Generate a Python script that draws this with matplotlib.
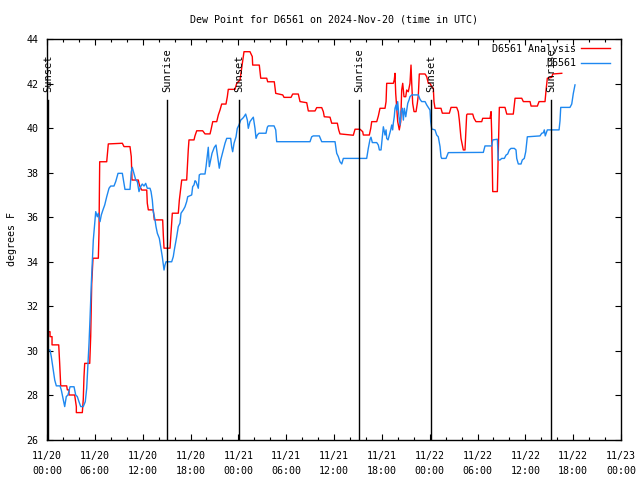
import matplotlib
matplotlib.use("Agg")
import matplotlib.pyplot as plt
import matplotlib.dates as mdates
import numpy as np
from datetime import datetime, timedelta

plt.rcParams['font.family'] = ['DejaVu Sans Mono']

base = datetime(2024, 11, 20, 0, 0)

# D6561 Analysis (red): hours since 11/20 00:00 UTC, dew point degF
analysis_hours = [0.04, 0.38, 0.38, 0.63, 0.63, 1.47, 1.59, 1.72, 2.47, 2.55, 2.76, 2.76, 3.47, 3.68, 3.68, 4.43,
                  4.55, 4.64, 4.73, 5.36, 5.48, 5.61, 5.77, 6.44, 6.52, 6.61, 7.49, 7.65, 7.69, 9.45, 9.66, 10.41,
                  10.57, 10.66, 11.45, 11.54, 11.67, 11.88, 12.51, 12.58, 12.71, 13.33, 13.46, 14.51, 14.59, 14.68,
                  15.43, 15.55, 15.64, 15.72, 16.47, 16.60, 16.77, 16.90, 17.52, 17.65, 17.72, 17.81, 18.44, 18.56,
                  18.78, 19.53, 19.82, 20.45, 20.57, 20.79, 21.29, 21.49, 21.70, 21.91, 22.45, 22.62, 22.74, 23.58,
                  23.80, 24.21, 24.71, 25.46, 25.75, 25.80, 26.63, 26.81, 27.56, 27.68, 28.51, 28.69, 29.57, 29.73,
                  30.61, 30.82, 31.52, 31.74, 32.58, 32.78, 33.62, 33.83, 34.46, 34.66, 34.78, 35.50, 35.71, 36.42,
                  36.59, 36.75, 38.42, 38.64, 39.26, 39.60, 39.68, 40.43, 40.61, 40.73, 41.36, 41.56, 41.77, 42.40,
                  42.53, 42.61, 43.44, 43.56, 43.65, 43.74, 43.86, 43.99, 44.19, 44.37, 44.49, 44.62, 44.78, 45.00,
                  45.12, 45.32, 45.53, 45.66, 45.75, 45.87, 46.04, 46.29, 46.45, 46.58, 46.70, 47.42, 47.63, 47.83,
                  48.04, 48.26, 48.46, 48.54, 48.67, 49.42, 49.59, 50.47, 50.68, 51.39, 51.59, 51.72, 51.93, 52.22,
                  52.43, 52.64, 52.72, 53.40, 53.56, 53.81, 54.53, 54.65, 55.57, 55.70, 55.78, 55.91, 56.49, 56.61,
                  56.74, 57.45, 57.67, 58.49, 58.71, 59.55, 59.75, 60.59, 60.72, 61.51, 61.72, 62.47, 62.60, 62.76,
                  63.31, 63.44, 64.57]
analysis_vals = [30.86, 30.86, 30.64, 30.64, 30.27, 30.27, 29.44, 28.43, 28.43, 28.25, 28.25, 28.02, 28.02, 27.50,
                 27.23, 27.23, 27.83, 28.84, 29.44, 29.44, 30.64, 33.03, 34.16, 34.16, 35.28, 38.49, 38.49, 39.09,
                 39.29, 39.32, 39.17, 39.17, 38.72, 37.67, 37.67, 37.52, 37.37, 37.22, 37.22, 36.63, 36.33, 36.33,
                 35.88, 35.88, 35.20, 34.61, 34.61, 35.28, 35.80, 36.18, 36.18, 36.77, 37.30, 37.67, 37.67, 38.57,
                 39.02, 39.47, 39.47, 39.65, 39.88, 39.88, 39.74, 39.74, 39.92, 40.29, 40.29, 40.59, 40.81, 41.08,
                 41.08, 41.41, 41.74, 41.74, 42.01, 42.16, 43.43, 43.43, 43.21, 42.83, 42.83, 42.24, 42.24, 42.08,
                 42.08, 41.56, 41.49, 41.38, 41.38, 41.53, 41.53, 41.19, 41.14, 40.77, 40.77, 40.92, 40.92, 40.74,
                 40.51, 40.49, 40.22, 40.22, 39.92, 39.74, 39.68, 39.95, 39.95, 39.84, 39.69, 39.69, 39.99, 40.29,
                 40.29, 40.54, 40.89, 40.89, 41.19, 42.01, 42.01, 42.16, 42.46, 41.56, 40.96, 40.29, 39.92, 40.29,
                 41.71, 42.01, 41.41, 41.41, 41.71, 41.63, 42.01, 42.83, 42.01, 41.11, 40.74, 40.74, 41.11, 41.49,
                 42.43, 42.43, 42.31, 42.01, 42.01, 41.86, 41.79, 41.19, 40.89, 40.89, 40.67, 40.67, 40.93, 40.93,
                 40.74, 40.36, 39.54, 39.02, 39.02, 40.59, 40.63, 40.63, 40.44, 40.29, 40.29, 40.44, 40.44, 40.74,
                 39.77, 37.15, 37.15, 39.02, 40.93, 40.93, 40.63, 40.63, 41.34, 41.34, 41.19, 41.19, 40.99, 40.99,
                 41.19, 41.19, 41.71, 42.24, 42.28, 42.43, 42.46]

# D6561 observations (blue)
obs_hours = [0.00, 0.13, 0.38, 0.54, 0.79, 0.97, 1.17, 1.63, 1.79, 2.04, 2.22, 2.42, 2.63, 2.89, 3.39, 3.60, 3.80,
             4.01, 4.23, 4.55, 4.80, 4.98, 5.14, 5.27, 5.39, 5.56, 5.68, 5.81, 5.98, 6.11, 6.31, 6.44, 6.65, 6.81,
             7.02, 7.24, 7.49, 7.78, 7.99, 8.40, 8.62, 8.91, 9.45, 9.66, 9.78, 10.41, 10.57, 10.70, 10.91, 11.13,
             11.33, 11.54, 11.75, 11.95, 12.17, 12.38, 12.58, 12.92, 13.05, 13.21, 13.33, 13.55, 13.67, 13.84,
             14.09, 14.26, 14.46, 14.68, 14.80, 14.93, 15.64, 15.84, 15.97, 16.27, 16.47, 16.68, 16.81, 17.10,
             17.31, 17.52, 17.65, 18.15, 18.27, 18.44, 18.57, 18.69, 18.98, 19.10, 19.28, 19.82, 19.95, 20.11,
             20.23, 20.36, 20.53, 20.70, 20.99, 21.20, 21.41, 21.61, 21.79, 21.95, 22.12, 22.33, 22.54, 23.04,
             23.17, 23.29, 23.46, 23.71, 23.87, 24.08, 24.30, 24.55, 24.71, 24.92, 25.13, 25.25, 25.46, 25.68,
             25.88, 26.09, 26.22, 26.38, 26.59, 27.47, 27.64, 27.76, 28.48, 28.69, 28.81, 32.99, 33.20, 33.40,
             34.16, 34.46, 36.13, 36.34, 36.54, 36.75, 36.97, 37.17, 40.10, 40.30, 40.52, 40.64, 40.81, 41.36,
             41.56, 41.69, 41.90, 42.02, 42.19, 42.31, 42.40, 42.53, 42.61, 42.78, 42.94, 43.11, 43.24, 43.36,
             43.44, 43.56, 43.65, 43.78, 43.86, 43.99, 44.15, 44.28, 44.41, 44.57, 44.70, 44.82, 45.00, 45.12,
             45.25, 45.41, 45.53, 45.75, 46.58, 46.79, 47.00, 47.42, 47.63, 48.04, 48.13, 48.26, 48.67, 48.88,
             49.08, 49.30, 49.42, 49.51, 50.05, 50.21, 50.34, 54.73, 54.94, 55.78, 55.91, 56.49, 56.61, 56.82,
             57.04, 57.37, 57.58, 57.79, 57.99, 58.20, 58.62, 58.83, 58.92, 59.12, 59.46, 59.62, 59.87, 60.05,
             60.25, 61.84, 62.06, 62.26, 62.38, 62.50, 62.76, 64.23, 64.35, 64.44, 65.60, 65.82, 66.02, 66.23]
obs_vals = [29.74, 30.04, 30.04, 29.74, 29.14, 28.69, 28.43, 28.43, 28.25, 27.80, 27.50, 27.95, 28.02, 28.39, 28.39,
            28.02, 27.95, 27.72, 27.50, 27.50, 27.72, 28.32, 29.44, 30.34, 31.39, 33.03, 33.93, 34.98, 35.73, 36.25,
            36.02, 36.18, 35.80, 36.10, 36.33, 36.55, 36.92, 37.30, 37.40, 37.40, 37.60, 37.97, 37.97, 37.52, 37.25,
            37.25, 38.04, 38.24, 37.97, 37.67, 37.60, 37.15, 37.37, 37.49, 37.40, 37.52, 37.30, 37.30, 37.15, 36.77,
            36.25, 35.88, 35.58, 35.28, 35.05, 34.68, 34.23, 33.63, 33.86, 34.00, 34.00, 34.23, 34.53, 35.13, 35.58,
            35.73, 36.18, 36.33, 36.47, 36.70, 36.92, 37.00, 37.37, 37.45, 37.64, 37.60, 37.30, 37.90, 37.94, 37.94,
            38.27, 38.79, 39.14, 38.27, 38.57, 38.87, 39.14, 39.24, 38.72, 38.20, 38.57, 38.79, 39.02, 39.32, 39.54,
            39.54, 39.14, 38.94, 39.32, 39.61, 39.99, 40.14, 40.36, 40.44, 40.51, 40.63, 40.36, 39.99, 40.29, 40.40,
            40.49, 39.99, 39.54, 39.69, 39.77, 39.77, 40.04, 40.10, 40.10, 39.92, 39.39, 39.39, 39.61, 39.65, 39.65,
            39.39, 39.39, 38.87, 38.72, 38.49, 38.39, 38.64, 38.64, 39.09, 39.50, 39.59, 39.35, 39.35, 39.24, 39.02,
            39.02, 39.47, 40.06, 39.84, 39.69, 39.92, 39.54, 39.47, 39.69, 39.92, 40.14, 39.92, 40.22, 40.51, 40.89,
            41.04, 40.81, 41.19, 40.51, 40.14, 40.74, 40.89, 40.36, 40.89, 40.51, 40.81, 41.11, 41.26, 41.41, 41.49,
            41.49, 41.29, 41.19, 41.19, 41.04, 40.81, 40.29, 39.96, 39.92, 39.69, 39.61, 39.17, 38.72, 38.64, 38.64,
            38.79, 38.90, 38.91, 39.20, 39.20, 39.47, 39.50, 38.57, 38.57, 38.64, 38.64, 38.79, 38.84, 39.02, 39.09,
            39.09, 39.02, 38.64, 38.39, 38.39, 38.57, 38.64, 38.94, 39.61, 39.65, 39.77, 39.79, 39.92, 39.65, 39.92,
            39.92, 40.33, 40.93, 40.93, 41.08, 41.56, 41.94]

sun_events = ["Sunset", "Sunrise", "Sunset", "Sunrise", "Sunset", "Sunrise"]
sun_hours = [0.13, 15.09, 24.12, 39.14, 48.15, 63.25]

to_dt = lambda hs: [base + timedelta(hours=h) for h in hs]

FS = 7.2

fig = plt.figure(figsize=(6.4, 4.8), dpi=100)
ax = fig.add_axes([47/640, 1-440/480, 574/640, 401/480])

ax.plot(to_dt(analysis_hours), analysis_vals, color='#ff0000', lw=1.0, label='D6561 Analysis')
ax.plot(to_dt(obs_hours), obs_vals, color='#1e88f0', lw=1.0, label='D6561')

for name, h in zip(sun_events, sun_hours):
    t = mdates.date2num(base + timedelta(hours=h))
    ax.axvline(t, ymin=0, ymax=0.848, color='black', lw=1.0)
    ax.text(t, 0.868, name, rotation=90, ha='center', va='bottom', fontsize=7.5,
            transform=ax.get_xaxis_transform())

ax.set_xlim(base, base + timedelta(hours=72))
ax.set_ylim(26, 44)
ax.set_yticks(np.arange(26, 45, 2))
ax.xaxis.set_major_locator(mdates.HourLocator(byhour=[0, 6, 12, 18]))
ax.xaxis.set_minor_locator(mdates.HourLocator(interval=2))
ax.xaxis.set_major_formatter(mdates.DateFormatter('%m/%d\n%H:%M'))

ax.tick_params(axis='both', which='both', direction='in', top=True, right=True, labelsize=FS)
ax.tick_params(axis='x', which='major', length=4.5, width=0.8, pad=8)
ax.tick_params(axis='x', which='minor', length=2.5, width=0.8)
ax.tick_params(axis='y', which='major', length=4.5, width=0.8, pad=6)
for lbl in ax.get_xticklabels():
    lbl.set_linespacing(1.6)
for s in ax.spines.values():
    s.set_linewidth(1.0)

ax.set_ylabel('degrees F', fontsize=FS, labelpad=7)

ax.legend(loc='upper right', bbox_to_anchor=(0.981, 0.988), frameon=False, markerfirst=False,
          fontsize=FS, handlelength=2.9, handletextpad=0.5, labelspacing=0.45,
          borderaxespad=0, borderpad=0)

fig.text(334/640, 1-20/480, 'Dew Point for D6561 on 2024-Nov-20 (time in UTC)', ha='center', va='center',
         fontsize=FS)

fig.savefig('out.png', dpi=100)
